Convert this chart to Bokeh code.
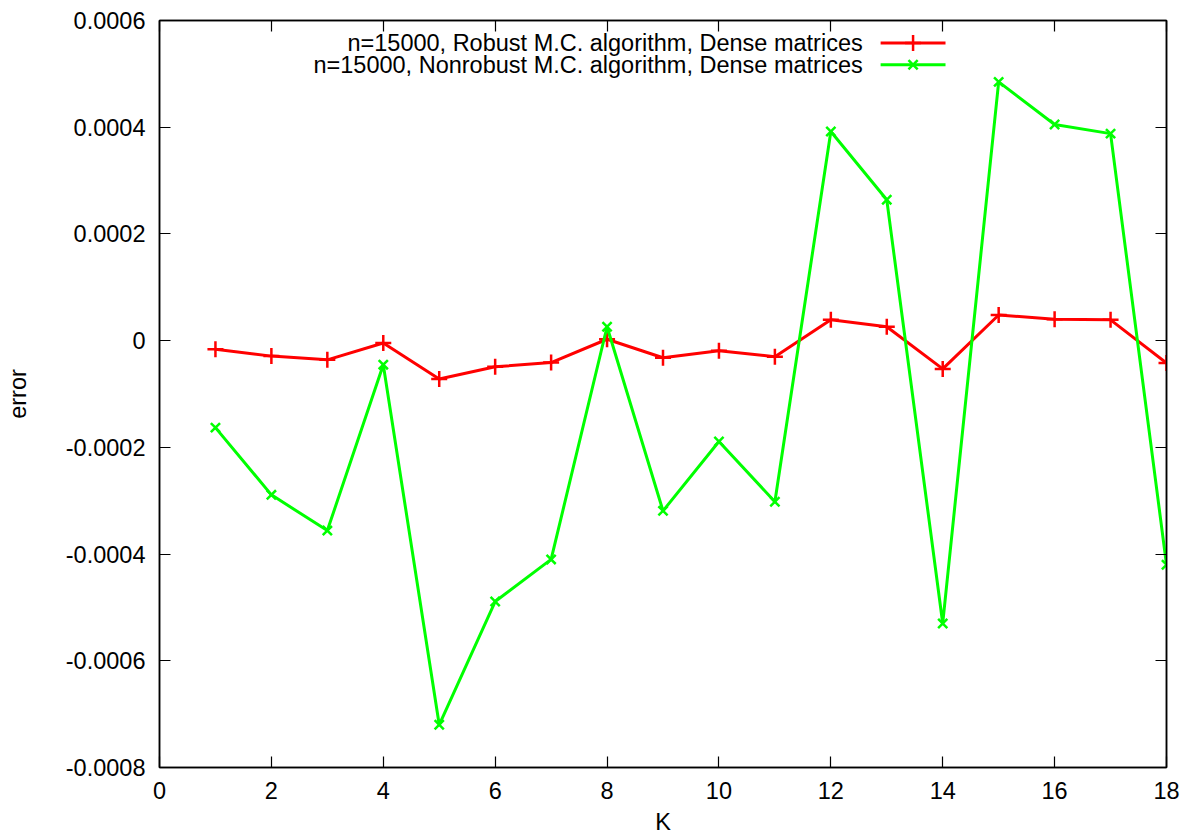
from bokeh.plotting import figure
from bokeh.models import Range1d, LinearAxis, FixedTicker, CustomJSTickFormatter, Label
from bokeh.embed import file_html
from bokeh.resources import INLINE

K = list(range(1, 19))
robust = [-1.6e-5, -2.9e-5, -3.6e-5, -0.45e-5, -7.2e-5, -4.9e-5, -4.1e-5, 0.26e-5, -3.2e-5,
          -1.9e-5, -3.0e-5, 3.9e-5, 2.6e-5, -5.3e-5, 4.8e-5, 4.0e-5, 3.9e-5, -4.2e-5]
nonrobust = [-0.000163, -0.000289, -0.000356, -0.000045, -0.000720, -0.000489, -0.000410,
             0.000026, -0.000319, -0.000189, -0.000302, 0.000392, 0.000264, -0.000530,
             0.000485, 0.000405, 0.000388, -0.000420]
x_ticks = [0, 2, 4, 6, 8, 10, 12, 14, 16, 18]
y_ticks = [-0.0008, -0.0006, -0.0004, -0.0002, 0, 0.0002, 0.0004, 0.0006]
labels = ["n=15000, Robust M.C. algorithm, Dense matrices",
          "n=15000, Nonrobust M.C. algorithm, Dense matrices"]

FONT = "Liberation Sans"
FS = "23.5px"

p = figure(width=1187, height=838, output_backend="svg", toolbar_location=None,
           x_range=Range1d(0, 18), y_range=Range1d(-0.0008, 0.0006),
           min_border_left=159, min_border_right=21, min_border_top=20, min_border_bottom=71,
           x_axis_location=None, y_axis_location=None)
p.grid.visible = False
p.outline_line_color = "black"
p.outline_line_width = 1.5
p.background_fill_color = "white"
p.border_fill_color = "white"

yfmt = CustomJSTickFormatter(code="if (Math.abs(tick) < 1e-12) return '0'; return tick.toFixed(4);")
blank = CustomJSTickFormatter(code="return '';")

def make_axis(ticks, show_labels, fmt=None, title=None, standoff=0):
    ax = LinearAxis(ticker=FixedTicker(ticks=ticks))
    ax.formatter = fmt if show_labels and fmt is not None else (ax.formatter if show_labels else blank)
    ax.major_tick_in = 11
    ax.major_tick_out = 0
    ax.minor_tick_line_color = None
    ax.axis_line_width = 1.5
    ax.major_tick_line_width = 1.2
    ax.major_label_text_font = FONT
    ax.major_label_text_font_size = FS
    ax.major_label_text_color = "black"
    ax.major_label_standoff = 14 if show_labels else 0
    if title:
        ax.axis_label = title
        ax.axis_label_text_font = FONT
        ax.axis_label_text_font_size = FS
        ax.axis_label_text_font_style = "normal"
        ax.axis_label_text_color = "black"
        ax.axis_label_standoff = standoff
    return ax

p.add_layout(make_axis(x_ticks, True, title="K", standoff=7), "below")
p.add_layout(make_axis(y_ticks, True, yfmt, title="error", standoff=32), "left")
p.add_layout(make_axis(x_ticks, False), "above")
p.add_layout(make_axis(y_ticks, False), "right")

RED = "#ff0000"
GREEN = "#00ff00"

p.line(K, robust, line_color=RED, line_width=3)
p.scatter(K, robust, marker="cross", size=16, line_color=RED, line_width=2.5)
p.line(K, nonrobust, line_color=GREEN, line_width=3)
p.scatter(K, nonrobust, marker="x", size=13, line_color=GREEN, line_width=2.5)

# legend (gnuplot style: text then sample)
leg_y = [0.000558, 0.000517]
colors = [RED, GREEN]
markers = ["cross", "x"]
sizes = [16, 13]
for lab, yy, c, m, s in zip(labels, leg_y, colors, markers, sizes):
    p.add_layout(Label(x=12.57, y=yy, text=lab, text_align="right", text_baseline="middle",
                       text_font=FONT, text_font_size=FS, text_color="black"))
    p.line([12.89, 14.05], [yy, yy], line_color=c, line_width=3)
    p.scatter([13.47], [yy], marker=m, size=s, line_color=c, line_width=2.5)

open("out.html", "w").write(file_html(p, INLINE))
